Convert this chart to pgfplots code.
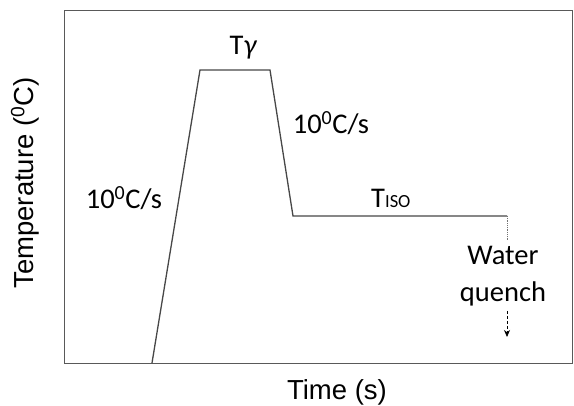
\documentclass[border=0pt]{standalone}
\usepackage{pgfplots}
\pgfplotsset{compat=1.18}
\usepackage{fontspec}
\newfontfamily\arial{Liberation Sans}
\newfontfamily\calibri{Carlito}
\usetikzlibrary{arrows.meta}

\begin{document}
\begin{tikzpicture}[x=1pt,y=1pt]
\useasboundingbox (0,0) rectangle (574,406);
\begin{axis}[
    at={(65pt,42pt)}, anchor=south west,
    scale only axis,
    width=507pt, height=353pt,
    xmin=65, xmax=572,
    ymin=42, ymax=395,
    axis line style={black!65, line width=1pt},
    ticks=none,
    clip=false,
]
% heat treatment cycle (y = 406 - pixel row)
\addplot[black!72, line width=1.3pt, mark=none] coordinates {
    (152,43) (200,336) (270,336) (293,190) (507,190)
};
% end of isothermal hold
\addplot[black!55, densely dotted, line width=0.8pt, mark=none] coordinates {(507,190) (507,166)};
\addplot[black, densely dashed, line width=0.8pt, mark=none, -{Stealth[length=7pt,width=6pt]}] coordinates {(507,95) (507,69)};

\node[font=\calibri\fontsize{28.5}{32}\selectfont] at (axis cs:243,358) {T{\itshape γ}};
\node[font=\calibri\fontsize{28.5}{32}\selectfont] at (axis cs:124,208) {10\textsuperscript{0}C/s};
\node[font=\calibri\fontsize{28.5}{32}\selectfont] at (axis cs:331,283) {10\textsuperscript{0}C/s};
\node[font=\calibri\fontsize{28.5}{32}\selectfont, anchor=base west, inner sep=0pt] at (axis cs:371,198) {T{\fontsize{18.5}{20}\selectfont ISO}};
\node[font=\calibri\fontsize{28.5}{37}\selectfont, align=center] at (axis cs:503,130) {Water\\quench};

\node[font=\arial\fontsize{27.5}{32}\selectfont] at (axis cs:337,14) {Time (s)};
\node[font=\arial\fontsize{27.5}{32}\selectfont, rotate=90] at (axis cs:25,223) {Temperature (\textsuperscript{0}C)};
\end{axis}
\end{tikzpicture}
\end{document}
